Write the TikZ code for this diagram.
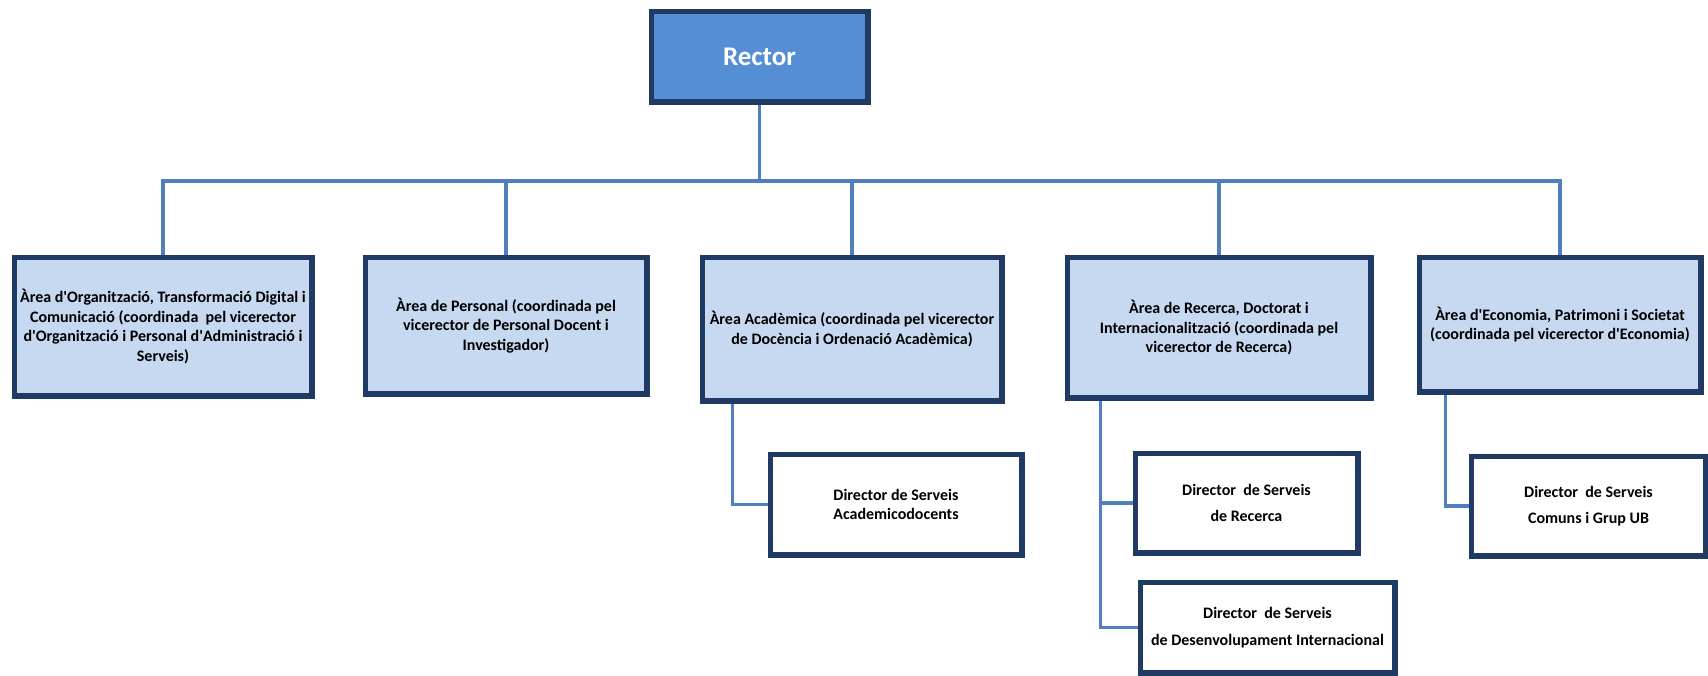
\documentclass[tikz,border=0pt]{standalone}
\usepackage{fontspec}
\setmainfont{Carlito}
\usepackage{tikz}
\usetikzlibrary{positioning,calc}
\definecolor{navy}{HTML}{1F3A63}
\definecolor{rectorblue}{HTML}{558ED5}
\definecolor{areablue}{HTML}{C6D9F1}
\definecolor{linkblue}{HTML}{4F7FBC}
\newcommand{\ap}{\textquotesingle}
\tikzset{%
	rectorbox/.style = {draw=navy, fill=rectorblue, line width=3.5pt, text=white, align=center, inner sep=0pt, font=\bfseries\fontsize{27}{32}\selectfont},
	areabox/.style   = {draw=navy, fill=areablue, line width=3.5pt, align=center, inner sep=0pt, font=\bfseries\fontsize{16}{19.5}\selectfont},
	dirbox/.style    = {draw=navy, fill=white, line width=3.5pt, align=center, inner sep=0pt, font=\bfseries\fontsize{16}{19.5}\selectfont},
	link/.style      = {draw=linkblue, line width=3.5pt},
}
\begin{document}
\begin{tikzpicture}[x=1pt,y=-1pt]
		\useasboundingbox (0,0) rectangle (1708,675);
		\node[rectorbox, minimum width=215pt, minimum height=89pt] (rector) at (759.5,56.5) {Rector};
		\coordinate (bus) at (759.5,181);
		
		\node[areabox, minimum width=296pt, minimum height=137pt] (a1) at (163,326.5) {Àrea d\ap Organització, Transformació Digital i\\Comunicació (coordinada~ pel vicerector\\d\ap Organització i Personal d\ap Administració i\\Serveis)};
		\node[areabox, minimum width=280pt, minimum height=135pt] (a2) at (506,325.5) {Àrea de Personal (coordinada pel\\vicerector de Personal Docent i\\Investigador)};
		\node[areabox, minimum width=298pt, minimum height=142pt] (a3) at (852,329) {Àrea Acadèmica (coordinada pel vicerector\\de Docència i Ordenació Acadèmica)};
		\node[areabox, minimum width=302pt, minimum height=139pt] (a4) at (1219,327.5) {Àrea de Recerca, Doctorat i\\Internacionalització (coordinada pel\\vicerector de Recerca)};
		\node[areabox, minimum width=280pt, minimum height=133pt] (a5) at (1560,324.5) {Àrea d\ap Economia, Patrimoni i Societat\\(coordinada pel vicerector d\ap Economia)};
		
		\node[dirbox, minimum width=250pt, minimum height=99pt] (d1) at (896,504.5) {Director de Serveis\\Academicodocents};
		\node[dirbox, minimum width=221pt, minimum height=98pt] (d2) at (1246.5,503) {Director~ de Serveis\\[7pt]de Recerca};
		\node[dirbox, minimum width=253pt, minimum height=89pt] (d3) at (1267.5,627.5) {Director~ de Serveis\\[7pt]de Desenvolupament Internacional};
		\node[dirbox, minimum width=233pt, minimum height=98pt] (d4) at (1588.5,506) {Director~ de Serveis\\[7pt]Comuns i Grup UB};
		
		% rector to areas
		\draw[link] (rector.south) -- (bus);
		\foreach \a in {a1,a2,a3,a4,a5}
			\draw[link] (bus) -| (\a.north);
		
		% areas to directors
		\draw[link] ([xshift=31pt]a3.south west) |- (d1.west);
		\draw[link] ([xshift=34pt]a4.south west) |- (d2.west);
		\draw[link] ([xshift=34pt]a4.south west) |- (d3.west);
		\draw[link] ([xshift=27pt]a5.south west) |- (d4.west);
		
		% boxes over the lines
		\foreach \b in {a1,a2,a3,a4,a5,d1,d2,d3,d4,rector}
			\draw[navy, line width=3.5pt] (\b.south west) rectangle (\b.north east);
	\end{tikzpicture}
\end{document}
